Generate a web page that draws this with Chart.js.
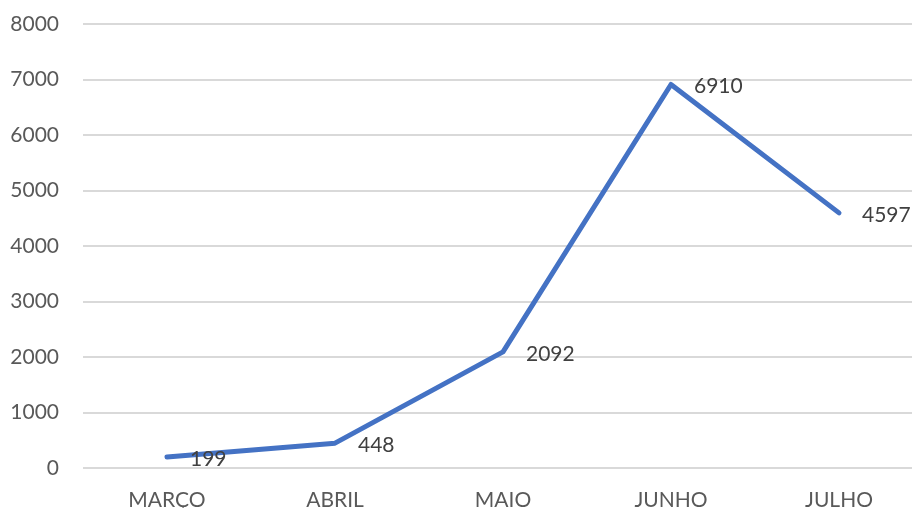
<!DOCTYPE html>
<html>
<head>
<meta charset="utf-8">
<script src="https://cdn.jsdelivr.net/npm/chart.js@4/dist/chart.umd.min.js"></script>
<style>
  html, body { margin: 0; padding: 0; background: #ffffff; overflow: hidden; }
  #wrap { width: 912px; height: 508px; overflow: hidden; position: relative; }
  canvas { display: block; }
</style>
</head>
<body>
<div id="wrap"><canvas id="chart" width="930" height="508"></canvas></div>
<script>
// Monthly totals
const months = ['MARÇO', 'ABRIL', 'MAIO', 'JUNHO', 'JULHO'];
const totals = [199, 448, 2092, 6910, 4597];
const yMin = 0;
const yMax = 8000;
const yStep = 1000;

const FONT = 'Lato, "Open Sans", sans-serif';

// Writes each point's value just to the right of the marker
const valueLabels = {
  id: 'valueLabels',
  afterDatasetsDraw(chart) {
    const ctx = chart.ctx;
    const meta = chart.getDatasetMeta(0);
    ctx.save();
    ctx.font = '21px ' + FONT;
    ctx.fillStyle = '#404040';
    ctx.textAlign = 'left';
    ctx.textBaseline = 'middle';
    meta.data.forEach((pt, i) => {
      ctx.fillText(String(totals[i]), pt.x + 23, pt.y + 2);
    });
    ctx.restore();
  }
};

new Chart(document.getElementById('chart'), {
  type: 'line',
  data: {
    labels: months,
    datasets: [{
      data: totals,
      borderColor: '#4472C4',
      borderWidth: 5,
      borderCapStyle: 'round',
      borderJoinStyle: 'round',
      pointRadius: 0,
      tension: 0,
      fill: false
    }]
  },
  options: {
    responsive: false,
    animation: false,
    layout: { padding: { top: 24, right: 7, left: 0, bottom: 0 } },
    plugins: {
      legend: { display: false },
      tooltip: { enabled: false }
    },
    scales: {
      x: {
        offset: true,
        grid: { display: false, drawTicks: false },
        border: { display: false },
        ticks: { color: '#595959', font: { family: FONT, size: 21 }, padding: 20, maxRotation: 0 },
        afterFit(scale) { scale.height = 40; }
      },
      y: {
        min: yMin,
        max: yMax,
        grid: { color: '#d9d9d9', lineWidth: 2, drawTicks: false },
        border: { display: false },
        ticks: {
          stepSize: yStep,
          color: '#595959',
          font: { family: FONT, size: 21 },
          padding: 24,
          callback: (v) => String(v)
        },
        afterFit(scale) {
          scale.width = 83;
          scale.paddingTop = 0;
          scale.paddingBottom = 0;
        }
      }
    }
  },
  plugins: [valueLabels]
});
</script>
</body>
</html>
